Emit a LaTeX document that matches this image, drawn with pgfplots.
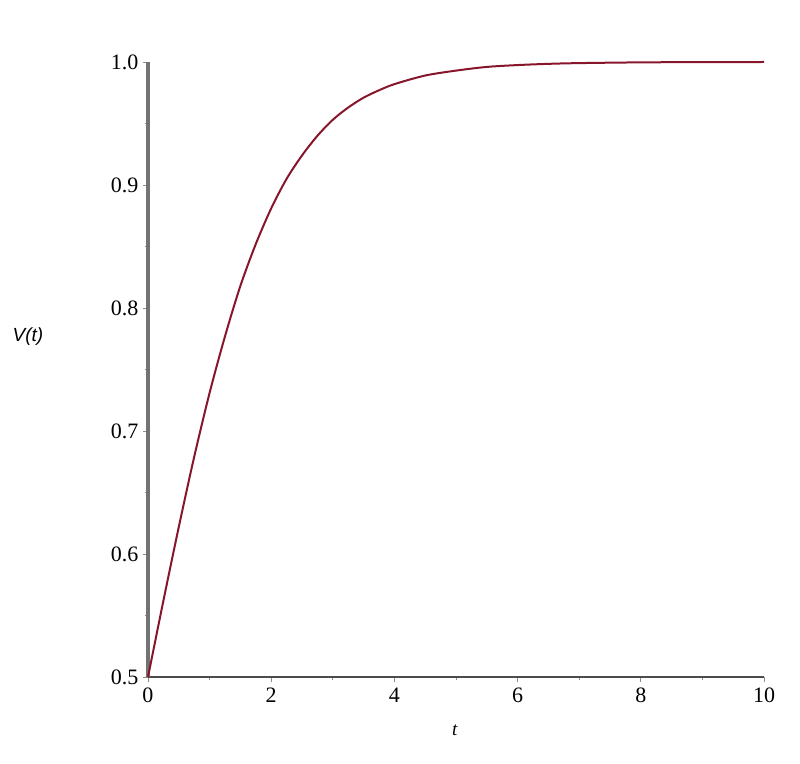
\documentclass[border=0pt]{standalone}
\usepackage{pgfplots}
\pgfplotsset{compat=1.18}
\usepackage{fontspec}
\setmainfont{Liberation Serif}
\newfontfamily\labelsans{Liberation Sans}
\definecolor{curvecol}{RGB}{135,22,42}
\definecolor{axgray}{RGB}{115,115,115}
\begin{document}
\begin{tikzpicture}
\useasboundingbox (-148pt,-86pt) rectangle (652pt,677pt);
\begin{axis}[
  at={(0pt,0pt)}, anchor=south west,
  scale only axis, width=616pt, height=615pt,
  xmin=0, xmax=10, ymin=0.5, ymax=1.0,
  axis x line*=bottom, axis y line*=left,
  every outer x axis line/.append style={draw=black!70, line width=2pt},
  every outer y axis line/.append style={draw=axgray, line width=3.2pt},
  xtick={0,2,4,6,8,10}, ytick={0.5,0.6,0.7,0.8,0.9,1.0},
  minor x tick num=1, minor y tick num=1,
  tick align=outside,
  major tick length=5pt, minor tick length=3pt,
  every tick/.style={draw=black!45, line width=0.8pt},
  /pgf/number format/assume math mode=true,
  yticklabel style={/pgf/number format/fixed, /pgf/number format/fixed zerofill, /pgf/number format/precision=1, font=\fontsize{22}{24}\selectfont, xshift=-1pt},
  xticklabel style={font=\fontsize{22}{24}\selectfont, yshift=-2pt},
  xlabel={\itshape t},
  xlabel style={at={(axis description cs:0.498,0)}, yshift=-53pt, anchor=center, font=\fontsize{19}{22}\selectfont},
  ylabel={\labelsans\itshape V(t)},
  ylabel style={rotate=-90, at={(axis description cs:0,0.553)}, xshift=-120pt, anchor=center, font=\fontsize{19}{22}\selectfont},
  clip=false,
]
\addplot[curvecol, line width=2pt, smooth] coordinates {
(0,0.5) (0.25,0.562) (0.5,0.622) (0.75,0.679) (1,0.731) (1.25,0.777) (1.5,0.818) (1.75,0.852)
(2,0.881) (2.25,0.905) (2.5,0.924) (2.75,0.940) (3,0.953) (3.25,0.963) (3.5,0.971) (3.75,0.977)
(4,0.982) (4.5,0.989) (5,0.993) (5.5,0.996) (6,0.9975) (6.5,0.9985) (7,0.9991) (8,0.9997) (9,0.9999) (10,1.0)
};
\end{axis}
\end{tikzpicture}
\end{document}
